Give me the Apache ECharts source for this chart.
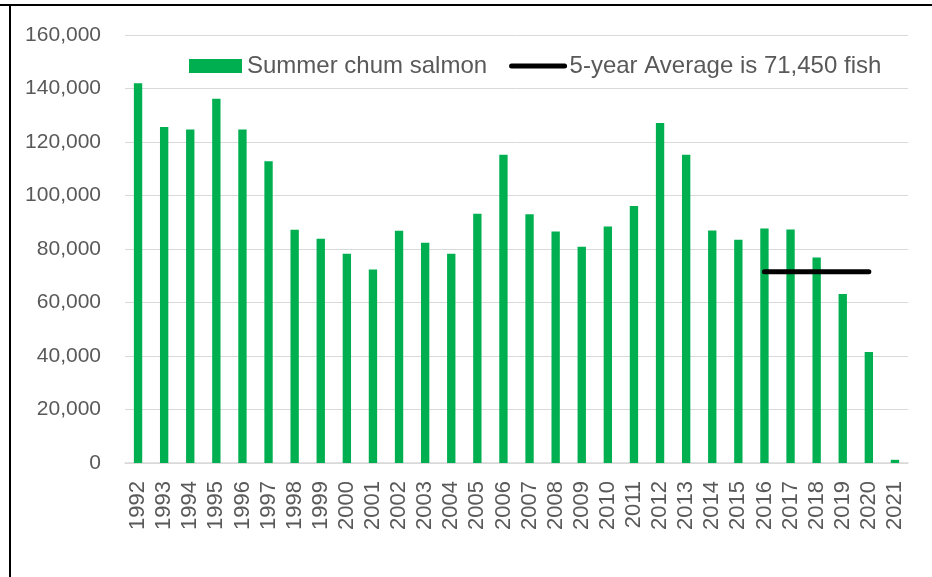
<!DOCTYPE html>
<html>
<head>
<meta charset="utf-8">
<script src="https://cdn.jsdelivr.net/npm/echarts@6/dist/echarts.min.js"></script>
<style>
  html, body { margin: 0; padding: 0; background: #fff; }
  #chart { width: 932px; height: 577px; }
</style>
</head>
<body>
<div id="chart"></div>
<script>
// years on the x axis
const years = ["1992", "1993", "1994", "1995", "1996", "1997", "1998", "1999", "2000", "2001",
  "2002", "2003", "2004", "2005", "2006", "2007", "2008", "2009", "2010", "2011",
  "2012", "2013", "2014", "2015", "2016", "2017", "2018", "2019", "2020", "2021"];

// summer chum salmon counts
const chumCounts = [142000, 125600, 124700, 136200, 124700, 112800, 87200, 83800, 78200, 72300,
  86800, 82300, 78200, 93200, 115200, 93000, 86500, 80800, 88400, 96100,
  127100, 115200, 86900, 83500, 87700, 87300, 76800, 63200, 41500, 1200];

// 5-year average, only drawn over 2016-2020
const fiveYearAvg = [null, null, null, null, null, null, null, null, null, null,
  null, null, null, null, null, null, null, null, null, null,
  null, null, null, null, 71450, 71450, 71450, 71450, 71450, null];

const yTicks = [0, 20000, 40000, 60000, 80000, 100000, 120000, 140000, 160000];

const seriesNames = ["Summer chum salmon", "5-year Average is 71,450 fish"];

const chart = echarts.init(document.getElementById("chart"));
const font = "Liberation Sans";
const textColor = "#595959";

const option = {
  animation: false,
  textStyle: { fontFamily: font },
  graphic: [
    // frame of the original picture
    { type: "line", shape: { x1: 0, y1: 5, x2: 932, y2: 5 }, style: { stroke: "#000", lineWidth: 2 } },
    { type: "line", shape: { x1: 10, y1: 5, x2: 10, y2: 577 }, style: { stroke: "#000", lineWidth: 2 } },
  ],
  legend: {
    left: 184,
    top: 49,
    itemWidth: 53,
    itemHeight: 14,
    itemGap: 22,
    textStyle: { color: textColor, fontSize: 24, fontFamily: font },
    data: [
      { name: seriesNames[0], icon: "rect" },
      {
        name: seriesNames[1],
        // only the thick line, no marker dot
        lineStyle: { width: 5, cap: "round", color: "#000" },
        itemStyle: { color: "rgba(0,0,0,0)", borderWidth: 0 },
      },
    ],
  },
  grid: {
    left: 125,
    right: 24,
    top: 35,
    bottom: 114,
    containLabel: false,
  },
  xAxis: {
    type: "category",
    data: years,
    axisLine: { show: true, lineStyle: { color: "#d9d9d9", width: 1.5 } },
    axisTick: { show: false },
    axisLabel: {
      rotate: 90,
      margin: 18,
      fontSize: 22,
      color: textColor,
      fontFamily: font,
      interval: 0,
    },
  },
  yAxis: {
    type: "value",
    min: yTicks[0],
    max: yTicks[yTicks.length - 1],
    interval: yTicks[1] - yTicks[0],
    axisLine: { show: false },
    axisTick: { show: false },
    splitLine: { lineStyle: { color: "#d9d9d9", width: 1 } },
    axisLabel: {
      margin: 24,
      fontSize: 21,
      color: textColor,
      fontFamily: font,
      formatter: (v) => v.toLocaleString("en-US"),
    },
  },
  series: [
    {
      name: seriesNames[0],
      type: "bar",
      data: chumCounts,
      barWidth: "32%",
      itemStyle: { color: "#00b050" },
    },
    {
      name: seriesNames[1],
      type: "line",
      data: fiveYearAvg,
      symbol: "none",
      lineStyle: { color: "#000", width: 5, cap: "round" },
      itemStyle: { color: "#000" },
      z: 5,
    },
  ],
};

chart.setOption(option);
</script>
</body>
</html>
